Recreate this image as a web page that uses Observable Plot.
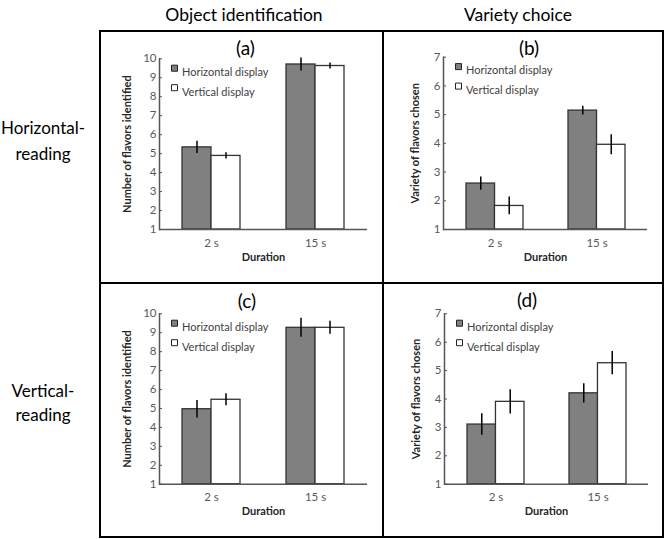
<!DOCTYPE html>
<html><head><meta charset="utf-8">
<script src="https://cdn.jsdelivr.net/npm/d3@7"></script>
<script src="https://cdn.jsdelivr.net/npm/@observablehq/plot@0.6"></script>
<style>
html,body{margin:0;padding:0;background:#fff;}
body{width:668px;height:539px;position:relative;overflow:hidden;font-family:Lato,"Open Sans",sans-serif;}
.ctr{position:absolute;transform:translate(-50%,-50%);white-space:nowrap;color:#000;}
.colt{font-size:17.5px;}
.rowt{font-size:17px;}
.pt{font-size:19px;}
.cell{position:absolute;}
.line{position:absolute;background:#000;}
</style></head><body>
<div id="root"></div>
<script>
// ---- data ----
const durations = ["2 s", "15 s"];
const displays = ["Horizontal display", "Vertical display"];
const columnTitles = ["Object identification", "Variety choice"];
const rowTitles = [["Horizontal-", "reading"], ["Vertical-", "reading"]];
const panelLabels = ["(a)", "(b)", "(c)", "(d)"];
const yLabelObject = "Number of flavors identified";
const yLabelVariety = "Variety of flavors chosen";
const xLabel = "Duration";
const ticksObject = [1, 2, 3, 4, 5, 6, 7, 8, 9, 10];
const ticksVariety = [1, 2, 3, 4, 5, 6, 7];
// order: [2 s Horizontal, 2 s Vertical, 15 s Horizontal, 15 s Vertical]
const meanA = [5.33, 4.88, 9.70, 9.62];
const errA  = [0.32, 0.16, 0.34, 0.16];
const meanB = [2.60, 1.82, 5.14, 3.95];
const errB  = [0.23, 0.31, 0.15, 0.35];
const meanC = [4.96, 5.46, 9.26, 9.26];
const errC  = [0.46, 0.32, 0.50, 0.34];
const meanD = [3.10, 3.90, 4.20, 5.26];
const errD  = [0.38, 0.43, 0.34, 0.41];

// ---- layout ----
const root = document.getElementById("root");
const panels = [
  {means: meanA, errs: errA, ticks: ticksObject, yLabel: yLabelObject, label: panelLabels[0],
   left: 100, top: 31, width: 283, height: 252, ml: 59, mr: 16, mt: 27.3, mb: 54, ydx: -32, tx: 245.5, ty: 47},
  {means: meanB, errs: errB, ticks: ticksVariety, yLabel: yLabelVariety, label: panelLabels[1],
   left: 383, top: 31, width: 280, height: 252, ml: 60, mr: 16, mt: 25.7, mb: 54, ydx: -28, tx: 529, ty: 46.7},
  {means: meanC, errs: errC, ticks: ticksObject, yLabel: yLabelObject, label: panelLabels[2],
   left: 100, top: 283, width: 283, height: 254, ml: 59, mr: 16, mt: 30.3, mb: 53.3, ydx: -32, tx: 247, ty: 300},
  {means: meanD, errs: errD, ticks: ticksVariety, yLabel: yLabelVariety, label: panelLabels[3],
   left: 383, top: 283, width: 280, height: 254, ml: 61, mr: 15, mt: 30.3, mb: 53.3, ydx: -28, tx: 527, ty: 299}
];

function makePanel(p) {
  const rows = [];
  durations.forEach((d, i) => displays.forEach((s, j) =>
    rows.push({duration: d, display: s, value: p.means[i * 2 + j], err: p.errs[i * 2 + j]})));
  const H = rows.filter(r => r.display === displays[0]);
  const V = rows.filter(r => r.display === displays[1]);
  const fw = p.width - p.ml - p.mr;
  const half = fw / 2 * 0.558 / 2;
  const y0 = p.ticks[0];
  const ax = "#595959";
  return Plot.plot({
    width: p.width, height: p.height,
    marginTop: p.mt, marginRight: p.mr, marginBottom: p.mb, marginLeft: p.ml,
    style: {fontFamily: "Lato, 'Open Sans', sans-serif", fontSize: "11.5px", color: ax, background: "none"},
    x: {type: "band", domain: durations, paddingInner: 0.442, paddingOuter: 0.221},
    y: {domain: [y0, p.ticks[p.ticks.length - 1]]},
    marks: [
      Plot.barY(H, {x: "duration", y1: y0, y2: "value", insetLeft: 0, insetRight: half,
        fill: "#808080", stroke: "#333", strokeWidth: 1.3}),
      Plot.barY(V, {x: "duration", y1: y0, y2: "value", insetLeft: half, insetRight: 0,
        fill: "#fff", stroke: "#333", strokeWidth: 1.3}),
      Plot.ruleX(H, {x: "duration", y1: d => d.value - d.err, y2: d => d.value + d.err,
        dx: -half / 2, stroke: "#000", strokeWidth: 1.5}),
      Plot.ruleX(V, {x: "duration", y1: d => d.value - d.err, y2: d => d.value + d.err,
        dx: half / 2, stroke: "#000", strokeWidth: 1.5}),
      Plot.ruleY([y0], {stroke: "#555", strokeWidth: 1.5}),
      Plot.frame({anchor: "left", stroke: "#555", strokeWidth: 1.5}),
      Plot.axisY({ticks: p.ticks, tickSize: -3, tickPadding: 6, label: null, tickFormat: d => String(d), stroke: "#555"}),
      Plot.axisX({tickSize: 0, tickPadding: 9, label: null}),
      Plot.text([p.yLabel], {frameAnchor: "left", textAnchor: "middle", rotate: -90, dx: p.ydx,
        fontWeight: "bold", fill: "#262626", fontSize: 11}),
      Plot.text([xLabel], {frameAnchor: "bottom", dy: 31, fontWeight: "bold", fill: "#262626", fontSize: 11}),
      Plot.dot([displays[0]], {frameAnchor: "top-left", dx: 15, dy: 9.4, symbol: "square", r: 3.4,
        fill: "#808080", stroke: "#222", strokeWidth: 1}),
      Plot.dot([displays[1]], {frameAnchor: "top-left", dx: 15, dy: 28.9, symbol: "square", r: 3.4,
        fill: "#fff", stroke: "#222", strokeWidth: 1}),
      Plot.text([displays[0]], {frameAnchor: "top-left", dx: 22.5, dy: 9.4, textAnchor: "start",
        fill: "#404040", fontSize: 11}),
      Plot.text([displays[1]], {frameAnchor: "top-left", dx: 22.5, dy: 28.9, textAnchor: "start",
        fill: "#404040", fontSize: 11})
    ]
  });
}

panels.forEach(p => {
  const div = document.createElement("div");
  div.className = "cell";
  div.style.left = p.left + "px";
  div.style.top = p.top + "px";
  div.appendChild(makePanel(p));
  root.appendChild(div);
  const t = document.createElement("div");
  t.className = "ctr pt";
  t.style.left = p.tx + "px";
  t.style.top = p.ty + "px";
  t.textContent = p.label;
  root.appendChild(t);
});

function addText(txt, x, y, cls) {
  const t = document.createElement("div");
  t.className = "ctr " + cls;
  t.style.left = x + "px";
  t.style.top = y + "px";
  t.textContent = txt;
  root.appendChild(t);
}
addText(columnTitles[0], 244, 14, "colt");
addText(columnTitles[1], 518, 14, "colt");
addText(rowTitles[0][0], 43, 127, "rowt");
addText(rowTitles[0][1], 43, 153, "rowt");
addText(rowTitles[1][0], 43, 390, "rowt");
addText(rowTitles[1][1], 43, 414, "rowt");

function addLine(x, y, w, h) {
  const l = document.createElement("div");
  l.className = "line";
  l.style.left = x + "px"; l.style.top = y + "px";
  l.style.width = w + "px"; l.style.height = h + "px";
  root.appendChild(l);
}
addLine(99, 30, 2, 508);
addLine(662, 30, 2, 508);
addLine(99, 30, 565, 2);
addLine(99, 536, 565, 2);
addLine(382, 30, 2, 508);
addLine(99, 282, 565, 2);
</script>
</body></html>
